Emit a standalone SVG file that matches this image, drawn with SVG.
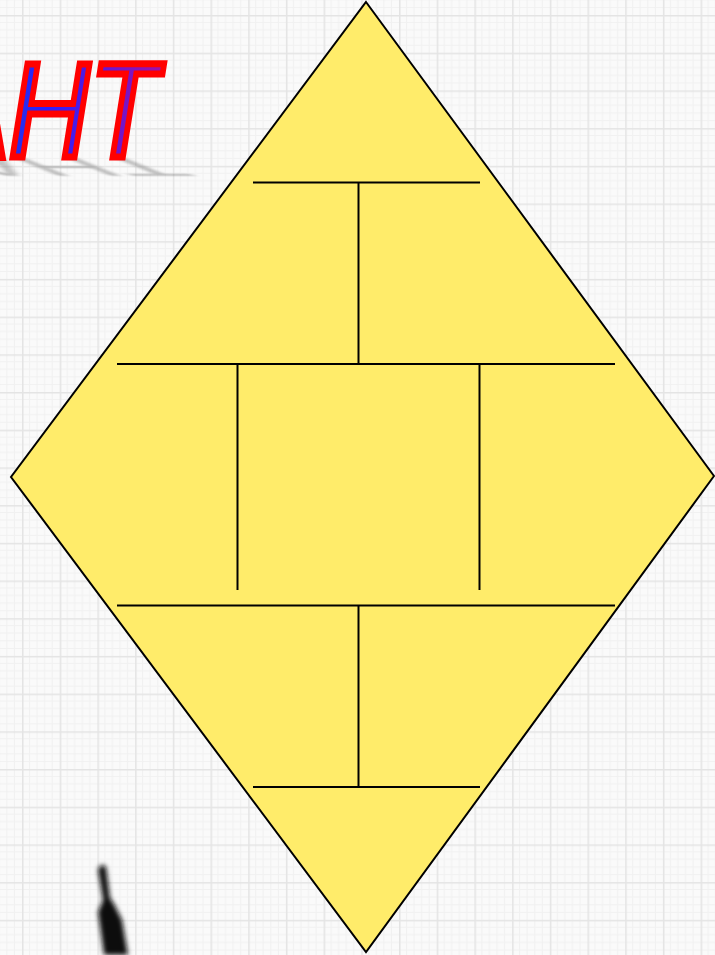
<svg xmlns="http://www.w3.org/2000/svg" width="715" height="955" viewBox="0 0 715 955">
  <defs>
    <pattern id="grid" x="22" y="15" width="37.7" height="37.7" patternUnits="userSpaceOnUse">
      <rect width="37.7" height="37.7" fill="#fafafa"/>
      <g stroke="#f1f1f1" stroke-width="1">
        <line x1="7.5" y1="0" x2="7.5" y2="37.7"/>
        <line x1="15" y1="0" x2="15" y2="37.7"/>
        <line x1="22.6" y1="0" x2="22.6" y2="37.7"/>
        <line x1="30.2" y1="0" x2="30.2" y2="37.7"/>
        <line x1="0" y1="7.5" x2="37.7" y2="7.5"/>
        <line x1="0" y1="15" x2="37.7" y2="15"/>
        <line x1="0" y1="22.6" x2="37.7" y2="22.6"/>
        <line x1="0" y1="30.2" x2="37.7" y2="30.2"/>
      </g>
      <g stroke="#e4e4e4" stroke-width="3">
        <line x1="0" y1="0" x2="0" y2="37.7"/>
        <line x1="0" y1="0" x2="37.7" y2="0"/>
      </g>
    </pattern>
    <linearGradient id="tg" x1="0" y1="0" x2="1" y2="0">
      <stop offset="0" stop-color="#1f5fb0"/>
      <stop offset="0.5" stop-color="#2a1fff"/>
      <stop offset="1" stop-color="#a010a8"/>
    </linearGradient>
    <filter id="blur" x="-30%" y="-50%" width="160%" height="200%">
      <feGaussianBlur stdDeviation="4"/>
    </filter>
    <filter id="blur2" x="-50%" y="-20%" width="200%" height="140%">
      <feGaussianBlur stdDeviation="2.5"/>
    </filter>
  </defs>
  <style>
    .part { stroke: #000; stroke-width: 2; fill: none; }
    .title { font-family: "Liberation Sans", Arial, sans-serif; font-style: italic; font-size: 136px; }
  </style>

  <rect width="715" height="955" fill="url(#grid)"/>

  <g id="title">
    <g transform="translate(10,0) scale(0.82,1)">
      <text class="title" x="-92" y="157" fill="#777" opacity="0.45" filter="url(#blur)" transform="matrix(1,0,-0.4,-0.2,62.8,188.4)">АНТ</text>
      <text class="title" x="-92" y="157" fill="url(#tg)" stroke="#ff0000" stroke-width="7" stroke-linejoin="miter">АНТ</text>
    </g>
  </g>

  <g id="pen">
    <path d="M 98 870 Q 101 862 106 867 L 110 898 L 114 904 L 122 920 L 128 955 L 104 955 L 98 912 L 103 900 Z" fill="#111" filter="url(#blur2)"/>
  </g>

  <g id="diamond">
    <polygon points="366,2 714,476 366,952 11,477" fill="#ffec6a" stroke="#000" stroke-width="2" stroke-linejoin="miter"/>
  </g>

  <g id="connectors">
    <line class="part" x1="253" y1="182.5" x2="480" y2="182.5"/>
    <line class="part" x1="358.5" y1="182.5" x2="358.5" y2="364"/>
    <line class="part" x1="117" y1="364" x2="615" y2="364"/>
    <line class="part" x1="237.5" y1="364" x2="237.5" y2="590"/>
    <line class="part" x1="479.5" y1="364" x2="479.5" y2="590"/>
    <line class="part" x1="117" y1="605.5" x2="615" y2="605.5"/>
    <line class="part" x1="358.5" y1="605.5" x2="358.5" y2="787"/>
    <line class="part" x1="253" y1="787" x2="480" y2="787"/>
  </g>
</svg>
